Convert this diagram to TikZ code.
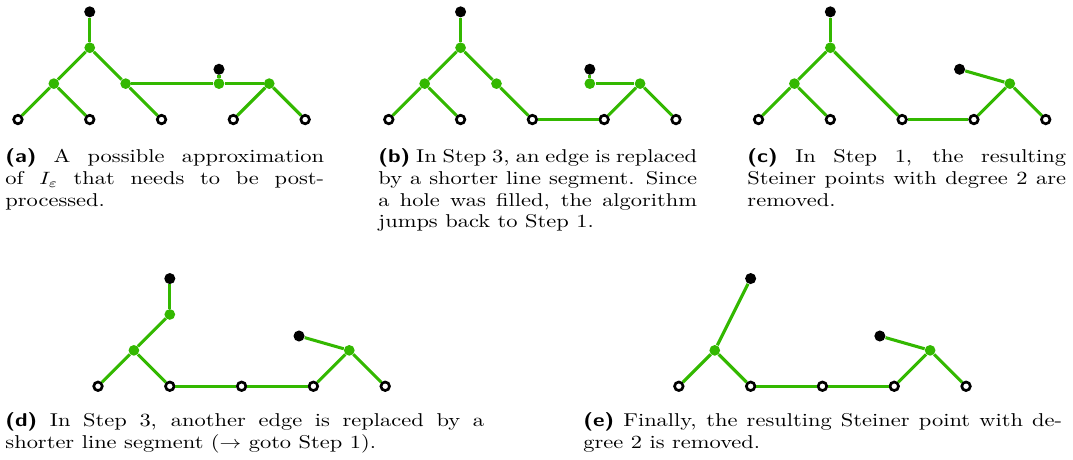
\documentclass[tikz,border=0pt]{standalone}
\usepackage{amsmath, amssymb}
\usepackage{xcolor}
\usepackage{tikz}
\definecolor{steinergreen}{RGB}{51,184,0}

\begin{document}
\begin{tikzpicture}[x=0.707cm, y=0.707cm,
  leaf/.style={circle, draw=black, fill=white, line width=1.5pt, inner sep=0pt, minimum size=4.8pt},
  term/.style={circle, fill=black, inner sep=0pt, minimum size=6.2pt},
  steiner/.style={circle, fill=steinergreen, inner sep=0pt, minimum size=6pt},
  seg/.style={draw=steinergreen, line width=1.7pt},
  capt/.style={anchor=north west, inner sep=0pt, xscale=1.21, transform shape, align=justify,
               font=\fontsize{10.4}{12.15}\selectfont, text width=147.6pt}]
  \useasboundingbox (0,0) rectangle (29.89,12.79);

  % (a)
  \begin{scope}[shift={(0,9.46)}]
    \node[leaf] (al1) at (0.5,0) {};
    \node[leaf] (al2) at (2.5,0) {};
    \node[leaf] (al3) at (4.5,0) {};
    \node[leaf] (al4) at (6.5,0) {};
    \node[leaf] (al5) at (8.5,0) {};
    \node[term] (at1) at (2.5,3) {};
    \node[term] (at2) at (6.1,1.4) {};
    \node[steiner] (as1) at (2.5,2) {};
    \node[steiner] (as2) at (1.5,1) {};
    \node[steiner] (as3) at (3.5,1) {};
    \node[steiner] (as4) at (6.1,1) {};
    \node[steiner] (as5) at (7.5,1) {};
    \draw[seg] (at1) -- (as1);
    \draw[seg] (as1) -- (as2);
    \draw[seg] (as1) -- (as3);
    \draw[seg] (as2) -- (al1);
    \draw[seg] (as2) -- (al2);
    \draw[seg] (as3) -- (al3);
    \draw[seg] (as3) -- (as4);
    \draw[seg] (as4) -- (at2);
    \draw[seg] (as4) -- (as5);
    \draw[seg] (as5) -- (al4);
    \draw[seg] (as5) -- (al5);
  \end{scope}

  % (b)
  \begin{scope}[shift={(10.33,9.46)}]
    \node[leaf] (bl1) at (0.5,0) {};
    \node[leaf] (bl2) at (2.5,0) {};
    \node[leaf] (bl3) at (4.5,0) {};
    \node[leaf] (bl4) at (6.5,0) {};
    \node[leaf] (bl5) at (8.5,0) {};
    \node[term] (bt1) at (2.5,3) {};
    \node[term] (bt2) at (6.1,1.4) {};
    \node[steiner] (bs1) at (2.5,2) {};
    \node[steiner] (bs2) at (1.5,1) {};
    \node[steiner] (bs3) at (3.5,1) {};
    \node[steiner] (bs4) at (6.1,1) {};
    \node[steiner] (bs5) at (7.5,1) {};
    \draw[seg] (bt1) -- (bs1);
    \draw[seg] (bs1) -- (bs2);
    \draw[seg] (bs1) -- (bs3);
    \draw[seg] (bs2) -- (bl1);
    \draw[seg] (bs2) -- (bl2);
    \draw[seg] (bs3) -- (bl3);
    \draw[seg] (bl3) -- (bl4);
    \draw[seg] (bs4) -- (bt2);
    \draw[seg] (bs4) -- (bs5);
    \draw[seg] (bs5) -- (bl4);
    \draw[seg] (bs5) -- (bl5);
  \end{scope}

  % (c)
  \begin{scope}[shift={(20.63,9.46)}]
    \node[leaf] (cl1) at (0.5,0) {};
    \node[leaf] (cl2) at (2.5,0) {};
    \node[leaf] (cl3) at (4.5,0) {};
    \node[leaf] (cl4) at (6.5,0) {};
    \node[leaf] (cl5) at (8.5,0) {};
    \node[term] (ct1) at (2.5,3) {};
    \node[term] (ct2) at (6.1,1.4) {};
    \node[steiner] (cs1) at (2.5,2) {};
    \node[steiner] (cs2) at (1.5,1) {};
    \node[steiner] (cs5) at (7.5,1) {};
    \draw[seg] (ct1) -- (cs1);
    \draw[seg] (cs1) -- (cs2);
    \draw[seg] (cs1) -- (cl3);
    \draw[seg] (cs2) -- (cl1);
    \draw[seg] (cs2) -- (cl2);
    \draw[seg] (cl3) -- (cl4);
    \draw[seg] (ct2) -- (cs5);
    \draw[seg] (cs5) -- (cl4);
    \draw[seg] (cs5) -- (cl5);
  \end{scope}

  % (d)
  \begin{scope}[shift={(2.23,2.03)}]
    \node[leaf] (dl1) at (0.5,0) {};
    \node[leaf] (dl2) at (2.5,0) {};
    \node[leaf] (dl3) at (4.5,0) {};
    \node[leaf] (dl4) at (6.5,0) {};
    \node[leaf] (dl5) at (8.5,0) {};
    \node[term] (dt1) at (2.5,3) {};
    \node[term] (dt2) at (6.1,1.4) {};
    \node[steiner] (ds1) at (2.5,2) {};
    \node[steiner] (ds2) at (1.5,1) {};
    \node[steiner] (ds5) at (7.5,1) {};
    \draw[seg] (dt1) -- (ds1);
    \draw[seg] (ds1) -- (ds2);
    \draw[seg] (ds2) -- (dl1);
    \draw[seg] (ds2) -- (dl2);
    \draw[seg] (dl2) -- (dl3);
    \draw[seg] (dl3) -- (dl4);
    \draw[seg] (dt2) -- (ds5);
    \draw[seg] (ds5) -- (dl4);
    \draw[seg] (ds5) -- (dl5);
  \end{scope}

  % (e)
  \begin{scope}[shift={(18.41,2.03)}]
    \node[leaf] (el1) at (0.5,0) {};
    \node[leaf] (el2) at (2.5,0) {};
    \node[leaf] (el3) at (4.5,0) {};
    \node[leaf] (el4) at (6.5,0) {};
    \node[leaf] (el5) at (8.5,0) {};
    \node[term] (et1) at (2.5,3) {};
    \node[term] (et2) at (6.1,1.4) {};
    \node[steiner] (es2) at (1.5,1) {};
    \node[steiner] (es5) at (7.5,1) {};
    \draw[seg] (et1) -- (es2);
    \draw[seg] (es2) -- (el1);
    \draw[seg] (es2) -- (el2);
    \draw[seg] (el2) -- (el3);
    \draw[seg] (el3) -- (el4);
    \draw[seg] (et2) -- (es5);
    \draw[seg] (es5) -- (el4);
    \draw[seg] (es5) -- (el5);
  \end{scope}

  % captions
  \node[capt] (capa) at (0.139,8.69) {\noindent\strut\textsf{\textbf{(a)}} A possible approximation\linebreak of $I_\varepsilon$ that needs to be post-\linebreak processed.};
  \node[capt] (capb) at (10.53,8.69) {\noindent\strut\textsf{\textbf{(b)}} In Step 3, an edge is replaced\linebreak by a shorter line segment. Since\linebreak a hole was filled, the algorithm\linebreak jumps back to Step 1.};
  \node[capt] (capc) at (20.81,8.69) {\noindent\strut\textsf{\textbf{(c)}} In Step 1, the resulting\linebreak Steiner points with degree 2 are\linebreak removed.};
  \node[capt, text width=221.7pt] (capd) at (0.139,1.337) {\noindent\strut\textsf{\textbf{(d)}} In Step 3, another edge is replaced by a\linebreak shorter line segment ($\rightarrow$ goto Step 1).};
  \node[capt, text width=221.7pt] (cape) at (16.24,1.337) {\noindent\strut\textsf{\textbf{(e)}} Finally, the resulting Steiner point with de-\linebreak gree 2 is removed.};
\end{tikzpicture}
\end{document}
